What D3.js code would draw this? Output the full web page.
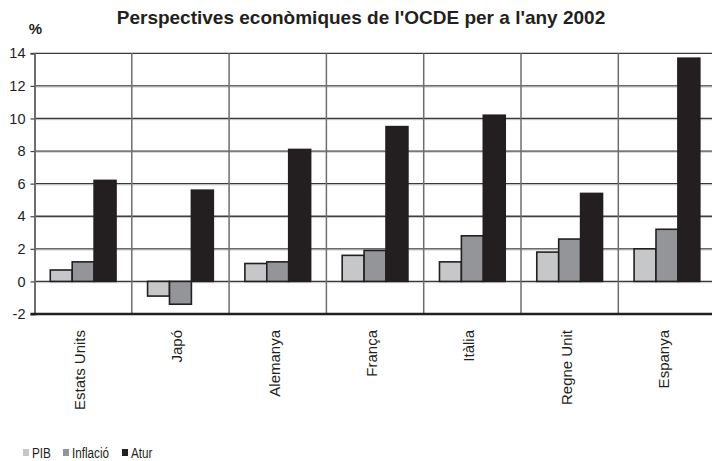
<!DOCTYPE html>
<html><head><meta charset="utf-8">
<script src="https://cdn.jsdelivr.net/npm/d3@7"></script>
<style>
html,body{margin:0;padding:0;background:#fff;}
svg{display:block;}
text{font-family:"Liberation Sans",Arial,Helvetica,sans-serif;fill:#231f20;}
</style></head>
<body>
<svg id="c" width="712" height="461"></svg>
<script>
const categories = ["Estats Units","Japó","Alemanya","França","Itàlia","Regne Unit","Espanya"];
const seriesNames = ["PIB","Inflació","Atur"];
const pib = [0.7, -0.9, 1.1, 1.6, 1.2, 1.8, 2.0];
const inflacio = [1.2, -1.4, 1.2, 1.9, 2.8, 2.6, 3.2];
const atur = [6.2, 5.6, 8.1, 9.5, 10.2, 5.4, 13.7];
const yTicks = [-2, 0, 2, 4, 6, 8, 10, 12, 14];
const colors = ["#c6c7c9", "#939598", "#231f20"];

(function () {
const values = [pib, inflacio, atur];
const svg = d3.select("#c");
const pLeft = 34.5, pRight = 715.6, pTop = 53.3, pBottom = 314;

const x = d3.scaleBand().domain(categories).range([pLeft, pRight]).paddingInner(0).paddingOuter(0);
const x1 = d3.scaleBand().domain(seriesNames).range([0, x.bandwidth()]).paddingInner(0).paddingOuter(0.72);
const y = d3.scaleLinear().domain([-2, 14]).range([pBottom, pTop]);

// horizontal gridlines
svg.append("g").selectAll("line").data(yTicks.filter(d => d > -2)).join("line")
  .attr("x1", pLeft).attr("x2", pRight)
  .attr("y1", d => y(d)).attr("y2", d => y(d))
  .attr("stroke", "#3a3a3a").attr("stroke-width", 1.3);
svg.append("g").selectAll("line").data(yTicks.filter(d => d > -2 && d < 14)).join("line")
  .attr("x1", pLeft).attr("x2", pRight)
  .attr("y1", d => y(d) + 1.2).attr("y2", d => y(d) + 1.2)
  .attr("stroke", "#bbb").attr("stroke-width", 0.8);

// vertical gridlines
svg.append("g").selectAll("line").data(categories.slice(1)).join("line")
  .attr("x1", d => x(d)).attr("x2", d => x(d))
  .attr("y1", pTop).attr("y2", pBottom)
  .attr("stroke", "#6d6e70").attr("stroke-width", 1.5);

// bars
const groups = svg.append("g").selectAll("g").data(categories).join("g")
  .attr("transform", d => `translate(${x(d)},0)`);
groups.selectAll("rect").data((c, i) => seriesNames.map((s, k) => ({s, k, v: values[k][i]}))).join("rect")
  .attr("x", d => x1(d.s))
  .attr("width", x1.bandwidth())
  .attr("y", d => Math.min(y(d.v), y(0)))
  .attr("height", d => Math.abs(y(d.v) - y(0)))
  .attr("fill", d => colors[d.k])
  .attr("stroke", "#231f20").attr("stroke-width", 1.6);

// left axis
const yAxis = d3.axisLeft(y).tickValues(yTicks).tickSize(4).tickPadding(5).tickFormat(d => String(d));
const ga = svg.append("g").attr("transform", `translate(${pLeft},0)`).call(yAxis);
ga.select(".domain").attr("stroke", "#6d6e70").attr("stroke-width", 2);
ga.selectAll(".tick line").attr("stroke", "#444").attr("stroke-width", 1.2);
ga.selectAll(".tick text").attr("font-size", 14.5).attr("fill", "#231f20")
  .attr("font-family", "'Liberation Sans',Arial,sans-serif");

// bottom axis line
svg.append("line").attr("x1", pLeft - 4).attr("x2", pRight).attr("y1", pBottom).attr("y2", pBottom)
  .attr("stroke", "#231f20").attr("stroke-width", 2.5);

// x labels
svg.append("g").selectAll("text").data(categories).join("text")
  .attr("transform", d => `translate(${x(d) + x.bandwidth()/2 + 2},330) rotate(-90)`)
  .attr("text-anchor", "end")
  .attr("font-size", 15)
  .text(d => d);

// title
svg.append("text").attr("x", 361).attr("y", 24).attr("text-anchor", "middle")
  .attr("font-size", 19).attr("font-weight", "bold")
  .text("Perspectives econòmiques de l'OCDE per a l'any 2002");
svg.append("text").attr("x", 35.5).attr("y", 34).attr("text-anchor", "middle")
  .attr("font-size", 15).attr("font-weight", "bold").text("%");

// legend
const legX = [23, 63, 122];
const lg = svg.append("g").selectAll("g").data(seriesNames).join("g")
  .attr("transform", (d, i) => `translate(${legX[i]},0)`);
lg.append("rect").attr("x", 0).attr("y", 449).attr("width", 6).attr("height", 7)
  .attr("fill", (d, i) => colors[i]);
lg.append("text").attr("transform", "translate(9,458) scale(0.78,1)").attr("font-size", 15)
  .text(d => d);
})();
</script>
</body></html>
